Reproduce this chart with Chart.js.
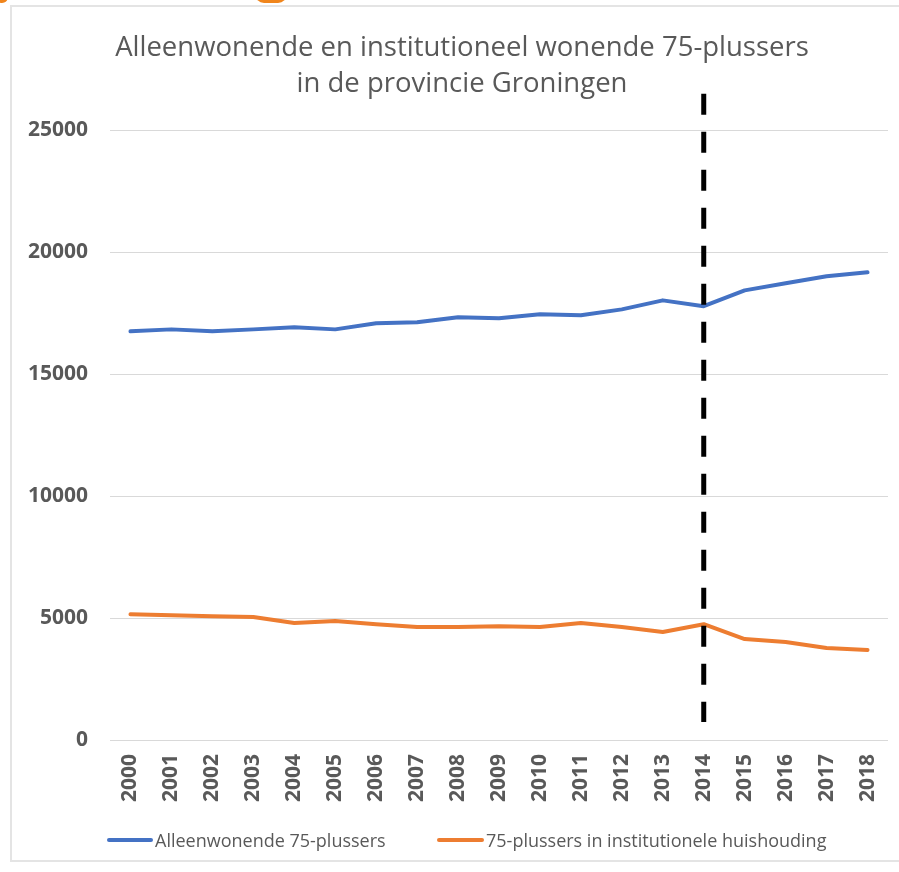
<!DOCTYPE html>
<html lang="nl">
<head>
<meta charset="utf-8">
<title>Alleenwonende en institutioneel wonende 75-plussers</title>
<script src="https://cdn.jsdelivr.net/npm/chart.js@4.4.1/dist/chart.umd.min.js"></script>
<style>
  html, body { margin: 0; padding: 0; background: #fff; }
  body { width: 899px; height: 872px; position: relative; overflow: hidden; font-family: "Open Sans", sans-serif; }
  #frame { position: absolute; left: 10px; top: 5px; width: 900px; height: 857px; border: 2px solid #e4e4e4; box-sizing: border-box; }
  .blob { position: absolute; top: -6px; height: 9px; background: #f0851c; border-radius: 0 0 12px 12px; }
  #wrap { position: absolute; left: 0; top: 0; width: 899px; height: 872px; }
  #legend { position: absolute; left: 0; top: 828px; width: 899px; height: 24px; }
  .item { position: absolute; top: 0; height: 24px; display: flex; align-items: center; color: #595959; font-size: 18px; white-space: nowrap; }
  .swatch { display: inline-block; height: 4px; border-radius: 2px; margin-right: 2px; }
</style>
</head>
<body>
<div id="frame"></div>
<div class="blob" style="left:-4px;width:12px"></div>
<div class="blob" style="left:255px;width:32px"></div>
<div id="wrap"><canvas id="chart" width="899" height="872"></canvas></div>
<div id="legend"></div>
<script>
const years = ["2000", "2001", "2002", "2003", "2004", "2005", "2006", "2007", "2008", "2009",
  "2010", "2011", "2012", "2013", "2014", "2015", "2016", "2017", "2018"];
const alleenwonend = [16760, 16840, 16760, 16840, 16930, 16840, 17090, 17130, 17340, 17300,
  17460, 17420, 17660, 18030, 17790, 18440, 18730, 19020, 19180];
const institutioneel = [5160, 5120, 5080, 5040, 4800, 4880, 4750, 4630, 4630, 4670,
  4630, 4800, 4630, 4430, 4750, 4140, 4020, 3770, 3690];
const seriesNames = ["Alleenwonende 75-plussers", "75-plussers in institutionele huishouding"];
const yTicks = [0, 5000, 10000, 15000, 20000, 25000];
const markerYear = "2014";
const markerRange = [26500, 740];

const grey = "#595959";

// dashed vertical line marking the break in the series
const markerLine = {
  id: "markerLine",
  afterLayout(chart) {
    // title in the original sits a bit right of the canvas centre
    if (chart.titleBlock) chart.titleBlock.left = 36;
  },
  afterDatasetsDraw(chart) {
    const { ctx, scales: { x, y } } = chart;
    const px = x.getPixelForValue(years.indexOf(markerYear));
    ctx.save();
    ctx.strokeStyle = "#000";
    ctx.lineWidth = 5;
    ctx.setLineDash([21, 17]);
    ctx.beginPath();
    ctx.moveTo(px, y.getPixelForValue(markerRange[0]));
    ctx.lineTo(px, y.getPixelForValue(markerRange[1]));
    ctx.stroke();
    ctx.restore();
  }
};

const chart = new Chart(document.getElementById("chart"), {
  type: "line",
  data: {
    labels: years,
    datasets: [
      { label: seriesNames[0], data: alleenwonend, borderColor: "#4472c4", backgroundColor: "#4472c4" },
      { label: seriesNames[1], data: institutioneel, borderColor: "#ed7d31", backgroundColor: "#ed7d31" }
    ]
  },
  options: {
    responsive: false,
    animation: false,
    layout: { padding: { left: 0, right: 11, top: 10, bottom: 44 } },
    elements: {
      line: { borderWidth: 4, tension: 0, borderCapStyle: "round", borderJoinStyle: "round" },
      point: { radius: 0 }
    },
    plugins: {
      legend: { display: false },
      tooltip: { enabled: false },
      title: {
        display: true,
        text: ["Alleenwonende en institutioneel wonende 75-plussers", "in de provincie Groningen"],
        color: grey,
        font: { family: "Open Sans", size: 27.5, weight: "normal", lineHeight: 1.28 },
        padding: { top: 21, bottom: 29 }
      }
    },
    scales: {
      x: {
        offset: true,
        grid: { display: false, drawTicks: false },
        border: { display: false },
        ticks: { color: grey, font: { family: "Open Sans", size: 21, weight: "bold" }, minRotation: 90, maxRotation: 90, padding: 14, autoSkip: false },
        afterFit(scale) {
          scale.height = 88;
          scale.paddingLeft = 0;
          scale.paddingRight = 0;
        }
      },
      y: {
        min: 0,
        max: 25000,
        afterBuildTicks(scale) { scale.ticks = yTicks.map(v => ({ value: v })); },
        grid: { color: "#d9d9d9", lineWidth: 1, drawTicks: false },
        border: { display: false },
        ticks: { color: grey, font: { family: "Open Sans", size: 21, weight: "bold" }, padding: 22, callback: v => String(v) },
        afterFit(scale) { scale.width = 110; }
      }
    }
  },
  plugins: [markerLine]
});

// legend as html, built from the datasets
const legendPos = [[107, 46], [437, 47]];
const legend = document.getElementById("legend");
chart.data.datasets.forEach((ds, i) => {
  const item = document.createElement("div");
  item.className = "item";
  item.style.left = legendPos[i][0] + "px";
  item.innerHTML = `<span class="swatch" style="width:${legendPos[i][1]}px;background:${ds.borderColor}"></span>${ds.label}`;
  legend.appendChild(item);
});
</script>
</body>
</html>
